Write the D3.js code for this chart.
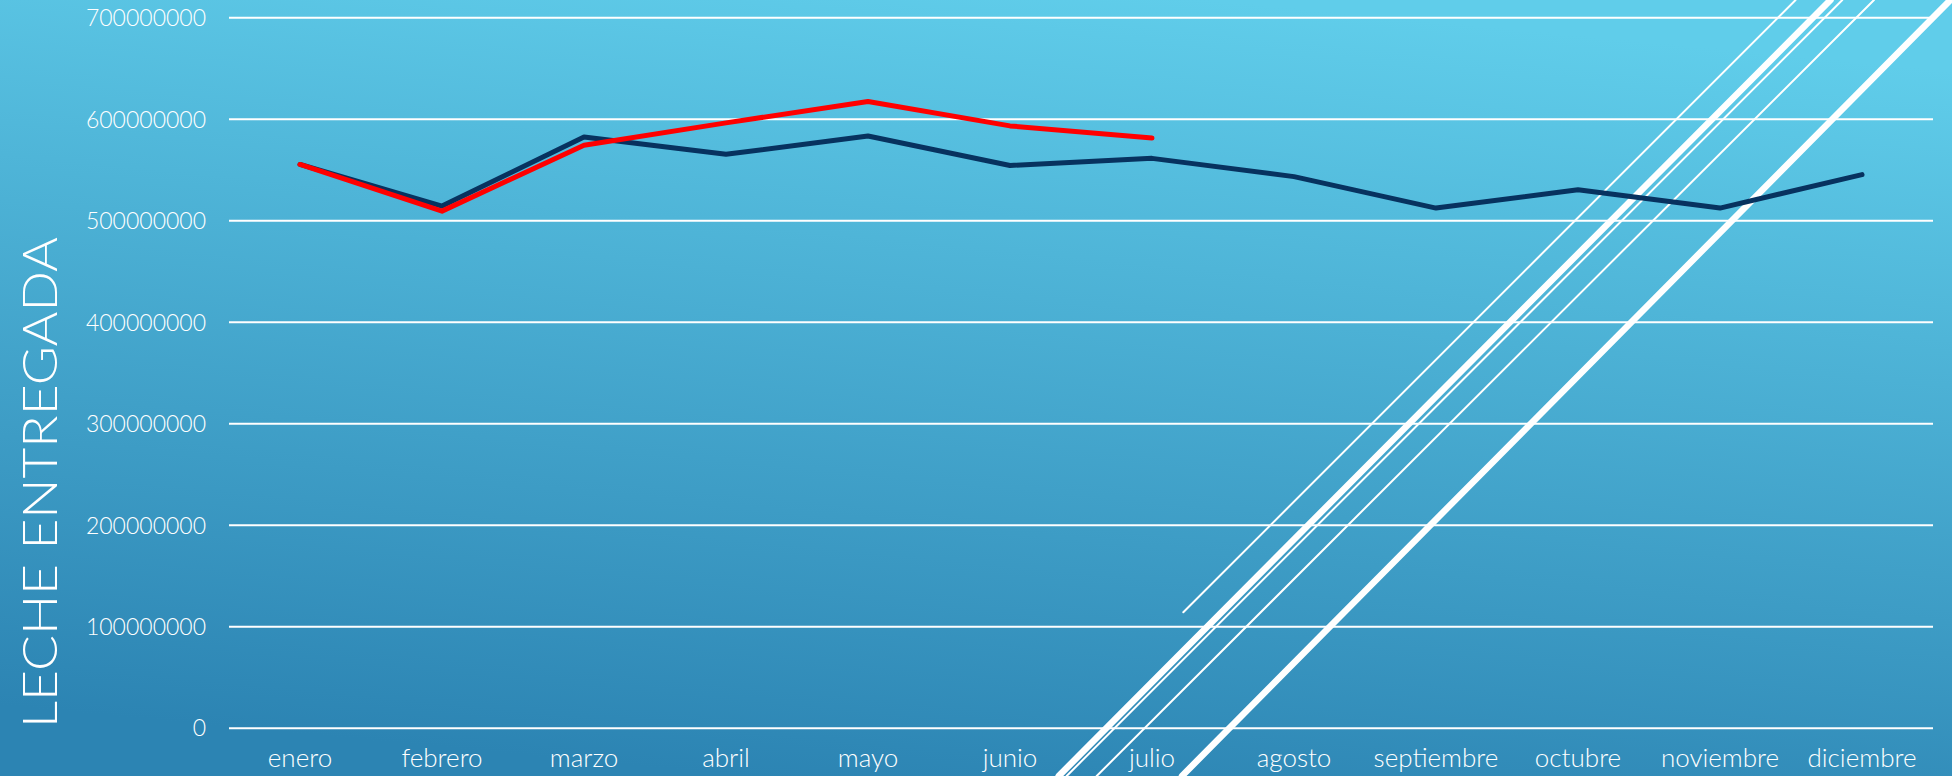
<!DOCTYPE html>
<html>
<head>
<meta charset="utf-8">
<script src="https://cdn.jsdelivr.net/npm/d3@7"></script>
<style>
  html, body { margin: 0; padding: 0; overflow: hidden; }
  svg { display: block; }
  text { font-family: "Lato", "Open Sans", sans-serif; fill: #ffffff; }
</style>
</head>
<body>
<svg id="chart" width="1952" height="776"></svg>
<script>
// ---- data ----
const months = ["enero", "febrero", "marzo", "abril", "mayo", "junio", "julio",
                "agosto", "septiembre", "octubre", "noviembre", "diciembre"];
const lecheAnterior = [555000000, 514000000, 582000000, 565000000, 583000000, 554000000,
                       561000000, 543000000, 512000000, 530000000, 512000000, 545000000];
const lecheActual = [555000000, 509000000, 574000000, 596000000, 617000000, 593000000, 581000000];
const yTicks = [0, 100000000, 200000000, 300000000, 400000000, 500000000, 600000000, 700000000];
const yTitle = "LECHE ENTREGADA";

// ---- layout ----
const W = 1952, H = 776;
const plot = { left: 229, right: 1933, top: 17.3, bottom: 727.7 };

const svg = d3.select("#chart");

// background gradient
const defs = svg.append("defs");
const grad = defs.append("linearGradient").attr("id", "bg")
  .attr("x1", "0.62").attr("y1", "0").attr("x2", "0.38").attr("y2", "1");
grad.append("stop").attr("offset", "0").attr("stop-color", "#60CDEA");
grad.append("stop").attr("offset", "1").attr("stop-color", "#2C84B3");
svg.append("rect").attr("width", W).attr("height", H).attr("fill", "url(#bg)");

// decorative diagonal theme lines (background graphics)
const decor = [
  { x1: 1830.5, y1: 0, x2: 1058.7, y2: 776, w: 6.5 },
  { x1: 1842.3, y1: 0, x2: 1066.7, y2: 776, w: 2 },
  { x1: 1874.0, y1: 0, x2: 1096.7, y2: 776, w: 2 },
  { x1: 1950.4, y1: 0, x2: 1182.0, y2: 776, w: 6.5 },
  { x1: 1795.6, y1: 0, x2: 1183.3, y2: 612.3, w: 2 }
];
svg.append("g").selectAll("line").data(decor).join("line")
  .attr("x1", d => d.x1).attr("y1", d => d.y1)
  .attr("x2", d => d.x2).attr("y2", d => d.y2)
  .attr("stroke", "#ffffff").attr("stroke-width", d => d.w)
  .attr("stroke-linecap", "round");

// scales
const x = d3.scaleBand().domain(months).range([plot.left, plot.right]).padding(0);
const y = d3.scaleLinear().domain([0, 700000000]).range([plot.bottom, plot.top]);
const cx = m => x(m) + x.bandwidth() / 2;

// gridlines
const yAxis = d3.axisLeft(y).tickValues(yTicks)
  .tickSize(-(plot.right - plot.left)).tickPadding(23)
  .tickFormat(d3.format("d"));
const gy = svg.append("g").attr("transform", `translate(${plot.left},0)`).call(yAxis);
gy.select(".domain").remove();
gy.selectAll(".tick line").attr("stroke", "#ffffff").attr("stroke-width", 2);
gy.selectAll(".tick text")
  .attr("fill", "#ffffff").attr("font-size", 23).attr("font-weight", 300)
  .attr("font-family", "Lato, sans-serif").attr("dy", "0.36em");

// x axis labels
const xAxis = d3.axisBottom(x).tickSize(0).tickPadding(0);
const gx = svg.append("g").attr("transform", `translate(0,${plot.bottom})`).call(xAxis);
gx.select(".domain").remove();
gx.selectAll(".tick text")
  .attr("fill", "#ffffff").attr("font-size", 26).attr("font-weight", 300)
  .attr("font-family", "Lato, sans-serif")
  .attr("y", 39).attr("dy", 0);

// lines
const line = d3.line().x((d, i) => cx(months[i])).y(d => y(d));
svg.append("path").datum(lecheAnterior)
  .attr("d", line).attr("fill", "none")
  .attr("stroke", "#07325F").attr("stroke-width", 5)
  .attr("stroke-linejoin", "round").attr("stroke-linecap", "round");
svg.append("path").datum(lecheActual)
  .attr("d", line).attr("fill", "none")
  .attr("stroke", "#FF0000").attr("stroke-width", 5)
  .attr("stroke-linejoin", "round").attr("stroke-linecap", "round");

// y title
svg.append("text")
  .attr("transform", "translate(57,482.5) rotate(-90)")
  .attr("text-anchor", "middle")
  .attr("font-size", 48).attr("font-weight", 300)
  .attr("textLength", 491).attr("lengthAdjust", "spacingAndGlyphs")
  .text(yTitle);
</script>
</body>
</html>
